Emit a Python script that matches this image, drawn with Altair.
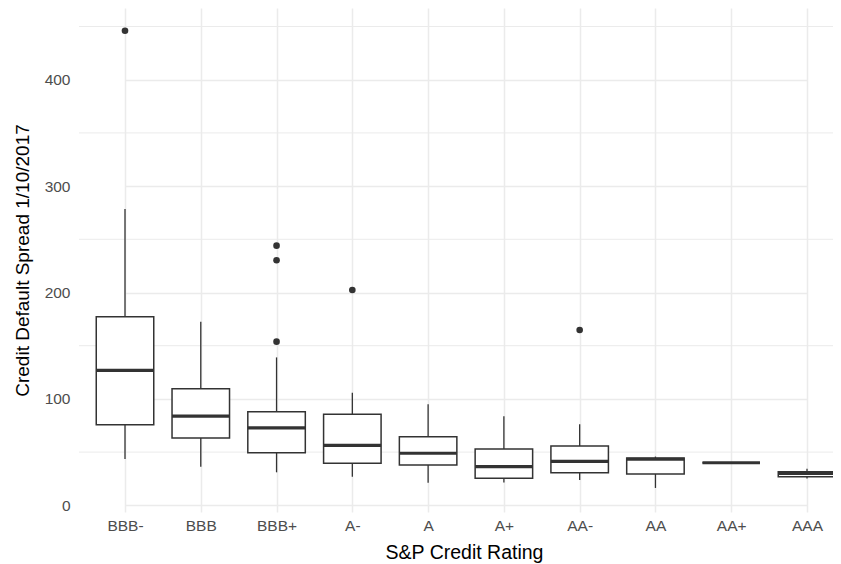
import altair as alt
import pandas as pd

ratings = ["BBB-", "BBB", "BBB+", "A-", "A", "A+", "AA-", "AA", "AA+", "AAA"]
lower = [43.5, 36.3, 31.0, 26.9, 21.2, 21.4, 23.8, 16.3, 40.0, 25.2]
q1 = [75.8, 63.3, 49.5, 39.5, 37.9, 25.4, 30.5, 29.3, 40.0, 26.8]
median = [126.9, 83.9, 72.7, 56.4, 48.9, 36.3, 41.3, 43.3, 40.0, 29.9]
q3 = [177.3, 109.6, 88.0, 85.5, 64.5, 52.9, 55.8, 44.5, 40.0, 31.6]
upper = [278.5, 172.6, 139.0, 105.8, 94.9, 83.6, 76.1, 45.8, 40.0, 34.4]

outlier_rating = ["BBB-", "BBB+", "BBB+", "BBB+", "A-", "AA-"]
outlier_value = [446.0, 244.0, 230.3, 153.8, 202.3, 164.8]

minor_grid = [50, 150, 250, 350, 450]
major_ticks = [0, 100, 200, 300, 400]

box = pd.DataFrame({"rating": ratings, "lower": lower, "q1": q1,
                    "median": median, "q3": q3, "upper": upper})
out = pd.DataFrame({"rating": outlier_rating, "value": outlier_value})
minor = pd.DataFrame({"v": minor_grid})

FONT = "Liberation Sans"
DARK = "#333333"

xscale = alt.Scale(type="point", domain=ratings, range=[46, 728], padding=0)
yscale = alt.Scale(domain=[-6.3, 467.4], nice=False, zero=False)

xaxis = alt.Axis(title="S&P Credit Rating", domain=False, ticks=False,
                 labelPadding=6, labelFont=FONT, labelFontSize=15.5,
                 labelColor="#4D4D4D", labelAngle=0,
                 titleFont=FONT, titleFontSize=19.5, titleFontWeight="normal",
                 titleColor="black", titleX=385, titleY=40,
                 titleBaseline="middle", titleAlign="center",
                 grid=True, gridColor="#EBEBEB", gridWidth=1.5)
yaxis = alt.Axis(title="Credit Default Spread 1/10/2017", domain=False,
                 ticks=False, values=major_ticks, labelPadding=9,
                 labelFont=FONT, labelFontSize=15.5, labelColor="#4D4D4D",
                 titleFont=FONT, titleFontSize=19, titleFontWeight="normal",
                 titleColor="black", titleX=-57, titleY=252,
                 titleAngle=270, titleBaseline="middle", titleAlign="center",
                 grid=True, gridColor="#EBEBEB", gridWidth=1.5)

minor_layer = alt.Chart(minor).mark_rule(color="#EBEBEB", strokeWidth=1.0).encode(
    y=alt.Y("v:Q", scale=yscale, axis=yaxis)
)

base = alt.Chart(box)

whisk = base.mark_rule(color=DARK, strokeWidth=1.3).encode(
    x=alt.X("rating:N", scale=xscale, axis=xaxis, sort=ratings),
    y=alt.Y("lower:Q", scale=yscale, axis=yaxis),
    y2="upper:Q",
)

boxes = base.mark_bar(size=57.5, fill="white", stroke=DARK, strokeWidth=1.5).encode(
    x=alt.X("rating:N", scale=xscale, axis=xaxis, sort=ratings),
    y=alt.Y("q1:Q", scale=yscale, axis=yaxis),
    y2="q3:Q",
)

med = base.mark_tick(orient="horizontal", size=57.5, thickness=3.2, color=DARK,
                     opacity=1).encode(
    x=alt.X("rating:N", scale=xscale, axis=xaxis, sort=ratings),
    y=alt.Y("median:Q", scale=yscale, axis=yaxis),
)

pts = alt.Chart(out).mark_circle(size=44, color=DARK, opacity=1).encode(
    x=alt.X("rating:N", scale=xscale, axis=xaxis, sort=ratings),
    y=alt.Y("value:Q", scale=yscale, axis=yaxis),
)

chart = alt.layer(minor_layer, whisk, boxes, med, pts).properties(
    width=754, height=504,
    autosize=alt.AutoSizeParams(type="none"),
    padding={"left": 71, "top": 0, "right": 0, "bottom": 52},
    background="white",
).configure_view(stroke=None)

chart.save("out.html", embed_options={"renderer": "svg", "actions": False})
